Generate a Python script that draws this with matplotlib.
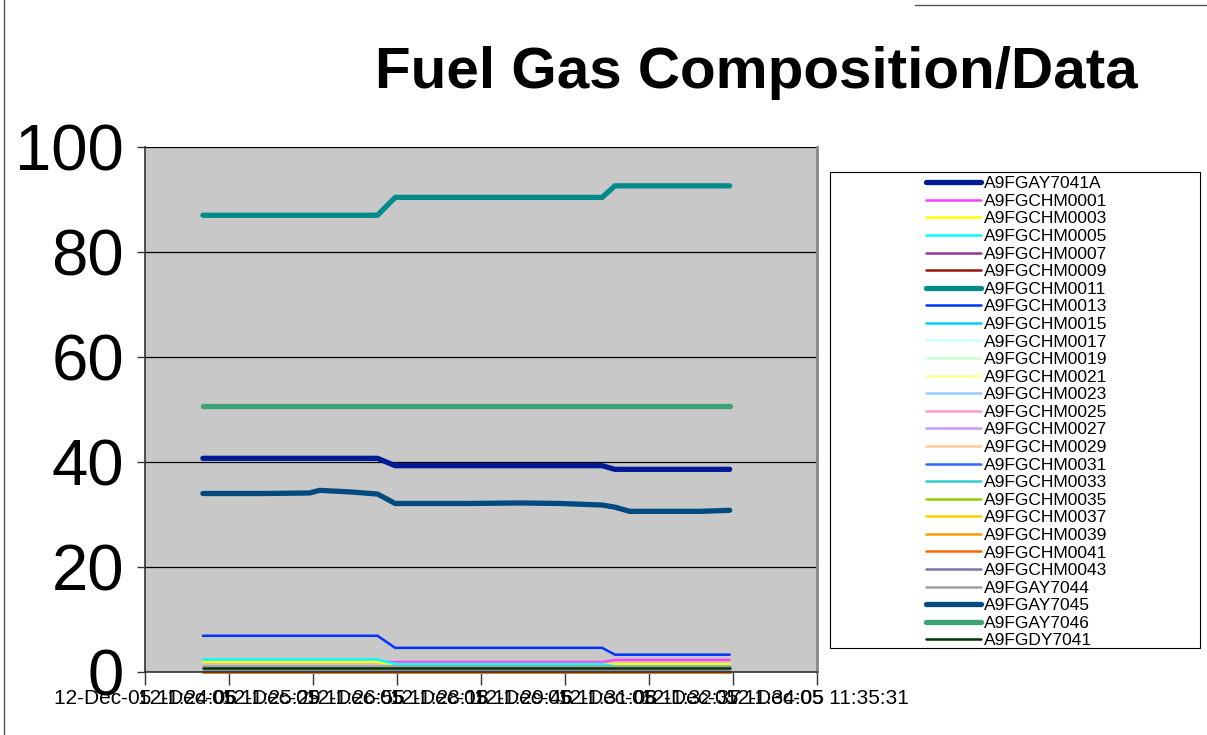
import matplotlib
matplotlib.use("Agg")
import matplotlib.pyplot as plt
import numpy as np
from matplotlib import font_manager as fm
from matplotlib.patches import Rectangle
from matplotlib.lines import Line2D

# ---------------- data ----------------
title = "Fuel Gas Composition/Data"
date_prefix = "12-Dec-05"
tick_labels = ["11:24:06", "11:25:29", "11:26:55", "11:28:18", "11:29:46",
               "11:31:08", "11:32:37", "11:34:05", "11:35:31"]
sample_times = ["11:25:05", "11:26:08", "11:26:54", "11:27:04", "11:27:35", "11:28:03",
                "11:28:21", "11:28:46", "11:29:37", "11:30:28", "11:31:09", "11:31:52",
                "11:32:05", "11:32:20", "11:33:32", "11:34:02"]

series_names = ["A9FGAY7041A", "A9FGCHM0001", "A9FGCHM0003", "A9FGCHM0005", "A9FGCHM0007",
                "A9FGCHM0009", "A9FGCHM0011", "A9FGCHM0013", "A9FGCHM0015", "A9FGCHM0017",
                "A9FGCHM0019", "A9FGCHM0021", "A9FGCHM0023", "A9FGCHM0025", "A9FGCHM0027",
                "A9FGCHM0029", "A9FGCHM0031", "A9FGCHM0033", "A9FGCHM0035", "A9FGCHM0037",
                "A9FGCHM0039", "A9FGCHM0041", "A9FGCHM0043", "A9FGAY7044", "A9FGAY7045",
                "A9FGAY7046", "A9FGDY7041"]

ay7041a = [40.7, 40.7, 40.7, 40.7, 40.7, 40.7, 39.3, 39.3, 39.3, 39.3, 39.3, 39.3, 38.6, 38.6, 38.6, 38.6]
chm0001 = [1.9, 1.9, 1.9, 1.9, 1.9, 1.9, 1.9, 1.9, 1.9, 1.9, 1.9, 1.9, 2.3, 2.3, 2.3, 2.3]
chm0003 = [1.9, 1.9, 1.9, 1.9, 1.9, 1.9, 1.5, 1.5, 1.5, 1.5, 1.5, 1.5, 1.5, 1.5, 1.5, 1.5]
chm0005 = [2.4, 2.4, 2.4, 2.4, 2.4, 2.4, 1.5, 1.5, 1.5, 1.5, 1.5, 1.5, 1.1, 1.1, 1.1, 1.1]
chm0007 = [0.0] * 16
chm0009 = [0.0] * 16
chm0011 = [87.0, 87.0, 87.0, 87.0, 87.0, 87.0, 90.4, 90.4, 90.4, 90.4, 90.4, 90.4, 92.6, 92.6, 92.6, 92.6]
chm0013 = [6.9, 6.9, 6.9, 6.9, 6.9, 6.9, 4.6, 4.6, 4.6, 4.6, 4.6, 4.6, 3.3, 3.3, 3.3, 3.3]
chm0015 = [0.0] * 16
chm0017 = [0.0] * 16
chm0019 = [0.0] * 16
chm0021 = [0.0] * 16
chm0023 = [0.0] * 16
chm0025 = [0.0] * 16
chm0027 = [0.0] * 16
chm0029 = [0.0] * 16
chm0031 = [0.0] * 16
chm0033 = [0.0] * 16
chm0035 = [0.0] * 16
chm0037 = [0.0] * 16
chm0039 = [0.0] * 16
chm0041 = [0.0] * 16
chm0043 = [0.2] * 16
ay7044 = [1.2] * 16
ay7045 = [34.0, 34.0, 34.1, 34.6, 34.3, 33.9, 32.1, 32.1, 32.1, 32.2, 32.1, 31.8, 31.4, 30.6, 30.6, 30.8]
ay7046 = [50.7] * 16
dy7041 = [0.7] * 16

series_values = [ay7041a, chm0001, chm0003, chm0005, chm0007, chm0009, chm0011, chm0013,
                 chm0015, chm0017, chm0019, chm0021, chm0023, chm0025, chm0027, chm0029,
                 chm0031, chm0033, chm0035, chm0037, chm0039, chm0041, chm0043, ay7044,
                 ay7045, ay7046, dy7041]

# ---------------- styles ----------------
colors = ["#001A94", "#FF44FF", "#FFFF00", "#00FFFF", "#993399", "#991111", "#008B8B",
          "#0033FF", "#00CCFF", "#CCFFFF", "#CCFFCC", "#FFFF99", "#99CCFF", "#FF99CC",
          "#CC99FF", "#FFCC99", "#3366FF", "#33CCCC", "#99CC00", "#FFCC00", "#FF9900",
          "#FF6600", "#7777AA", "#A0A0A0", "#004A80", "#3FA273", "#003300"]
thick = {"A9FGAY7041A", "A9FGCHM0011", "A9FGAY7045", "A9FGAY7046"}

names = {f.name for f in fm.fontManager.ttflist}
base = "Liberation Sans" if "Liberation Sans" in names else "DejaVu Sans"
plt.rcParams["font.family"] = [base, "DejaVu Sans"]


def secs(t):
    h, m, s = (int(v) for v in t.split(":"))
    return h * 3600 + m * 60 + s


t0 = secs(tick_labels[0])
x = np.array([secs(t) - t0 for t in sample_times])
xmax = secs(tick_labels[-1]) - t0

fig = plt.figure(figsize=(12.07, 7.35), dpi=100)
fig.patch.set_facecolor("white")

ax = fig.add_axes([145 / 1207, 63 / 735, 672 / 1207, 525 / 735])
ax.set_facecolor("#C8C8C8")

handles = []
for name, vals, col in zip(series_names, series_values, colors):
    lw = 3.8 if name in thick else 1.8
    h, = ax.plot(x, vals, color=col, lw=lw, solid_capstyle="round", solid_joinstyle="round",
                 label=name, clip_on=False)
    handles.append(h)

ax.set_xlim(0, xmax)
ax.set_ylim(0, 100)
ax.set_yticks(np.arange(0, 101, 20))
ax.set_yticklabels([str(v) for v in range(0, 101, 20)], fontsize=47)
ax.set_xticks(np.linspace(0, xmax, len(tick_labels)))
ax.set_xticklabels([f"{date_prefix} {t}" for t in tick_labels], fontsize=15)
ax.yaxis.grid(True, color="black", lw=0.9)
ax.set_axisbelow(True)
ax.tick_params(axis="y", length=6, width=1, pad=9, color="#333333")
ax.tick_params(axis="x", length=9, width=1, pad=3, color="#333333")
for side in ["left", "bottom"]:
    ax.spines[side].set_color("#333333")
    ax.spines[side].set_linewidth(1.2)
ax.spines["right"].set_color("#888888")
ax.spines["right"].set_linewidth(2)
ax.spines["top"].set_visible(False)

# title
fig.text(756 / 1207, 1 - 73 / 735, title, ha="center", va="center", fontsize=42,
         fontweight="bold")

# legend box
fig.patches.append(Rectangle((830 / 1207, 87 / 735), 370 / 1207, 476 / 735,
                             transform=fig.transFigure, facecolor="white",
                             edgecolor="black", lw=0.8, zorder=1))
leg_handles = [Line2D([], [], color=h.get_color(), lw=h.get_linewidth(),
                      solid_capstyle="round") for h in handles]
leg = fig.legend(leg_handles, series_names, loc="upper left",
                 bbox_to_anchor=(914 / 1207, 1 - 164 / 735), frameon=False,
                 fontsize=12.5, handlelength=3.15, handletextpad=0.2,
                 labelspacing=0.14, borderpad=0.2)

# outer frame lines
fig.add_artist(Line2D([4 / 1207, 4 / 1207], [0, 1], transform=fig.transFigure,
                      color="#555555", lw=1))
fig.add_artist(Line2D([915 / 1207, 1], [1 - 5 / 735, 1 - 5 / 735], transform=fig.transFigure,
                      color="#555555", lw=1))

fig.savefig("out.png", dpi=100)
